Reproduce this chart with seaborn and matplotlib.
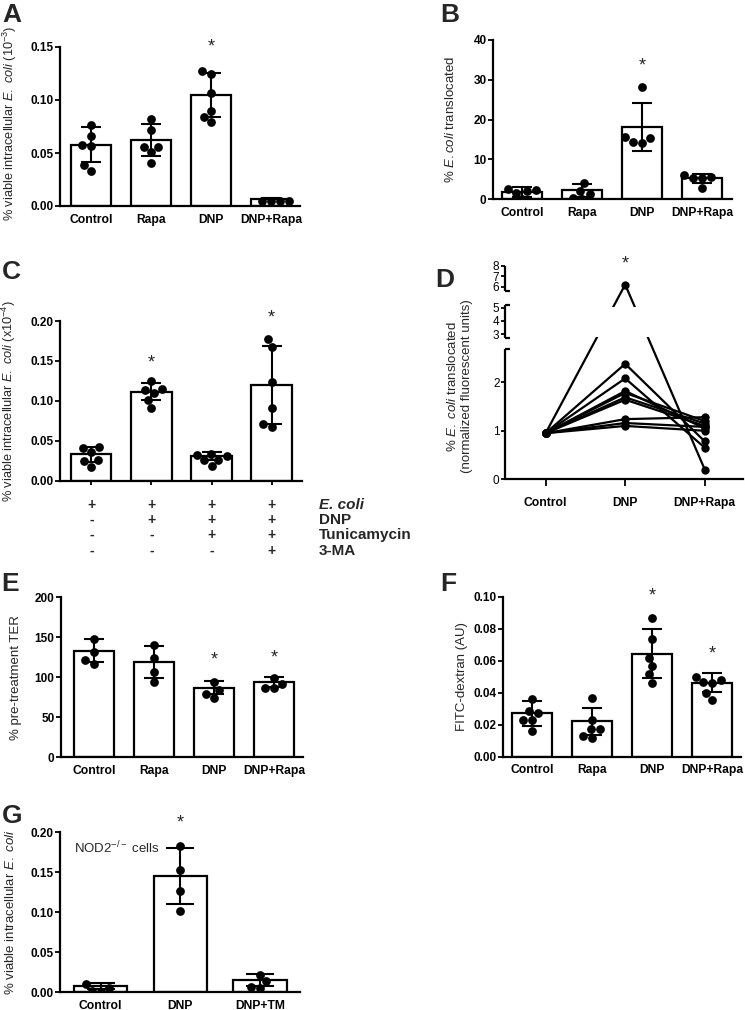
import numpy as np
import pandas as pd
import matplotlib
matplotlib.use("Agg")
import matplotlib.pyplot as plt
import matplotlib.transforms as mtransforms
import seaborn as sns

# ---------------- data ----------------
a_cats = ["Control", "Rapa", "DNP", "DNP+Rapa"]
a_mean = [0.0577, 0.0621, 0.1045, 0.0068]
a_sd = [0.0165, 0.0154, 0.0205, 0.0005]
a_pts = [[0.0763, 0.0662, 0.0574, 0.0570, 0.0389, 0.0333],
         [0.0825, 0.0715, 0.0559, 0.0555, 0.0505, 0.0405],
         [0.1270, 0.1243, 0.1070, 0.0894, 0.0841, 0.0790],
         [0.0045, 0.0044, 0.0043, 0.0045]]

b_cats = ["Control", "Rapa", "DNP", "DNP+Rapa"]
b_mean = [1.9, 2.3, 18.2, 5.3]
b_sd = [1.2, 1.6, 6.0, 1.15]
b_pts = [[2.6, 2.3, 2.0, 1.7, 0.1],
         [4.1, 2.2, 1.3, 0.3, 0.1],
         [28.1, 15.6, 15.4, 14.4, 14.2],
         [6.2, 5.6, 5.4, 5.3, 2.9]]

c_cats = ["g1", "g2", "g3", "g4"]
c_mean = [0.0330, 0.1115, 0.0309, 0.1198]
c_sd = [0.0095, 0.0105, 0.0045, 0.0485]
c_pts = [[0.0418, 0.0405, 0.0355, 0.0255, 0.0246, 0.0175],
         [0.1253, 0.1144, 0.1136, 0.1100, 0.1010, 0.0906],
         [0.0330, 0.0320, 0.0310, 0.0265, 0.0255, 0.0190],
         [0.1770, 0.1670, 0.1230, 0.0906, 0.0706, 0.0668]]
c_rows = ["E. coli", "DNP", "Tunicamycin", "3-MA"]
c_signs = [["+", "+", "+", "+"],
           ["-", "+", "+", "+"],
           ["-", "-", "+", "+"],
           ["-", "-", "-", "+"]]

d_cats = ["Control", "DNP", "DNP+Rapa"]
d_ctrl = [0.95, 0.95, 0.95, 0.95, 0.95, 0.95, 0.95, 0.95, 0.95, 0.95]
d_dnp = [6.20, 2.38, 2.08, 1.82, 1.78, 1.69, 1.64, 1.24, 1.16, 1.10]
d_rapa = [0.20, 0.78, 0.65, 1.05, 1.20, 1.15, 1.10, 1.28, 1.08, 1.00]

e_cats = ["Control", "Rapa", "DNP", "DNP+Rapa"]
e_mean = [133.3, 119.6, 87.1, 93.8]
e_sd = [14.0, 20.0, 8.0, 6.0]
e_pts = [[148.0, 132.0, 121.0, 117.0],
         [140.4, 123.8, 107.0, 94.6],
         [94.6, 84.2, 78.8, 74.6],
         [98.8, 91.2, 86.2, 86.2]]

f_cats = ["Control", "Rapa", "DNP", "DNP+Rapa"]
f_mean = [0.0272, 0.0221, 0.0643, 0.0463]
f_sd = [0.0078, 0.0085, 0.0153, 0.0060]
f_pts = [[0.0362, 0.0285, 0.0272, 0.0230, 0.0230, 0.0160],
         [0.0366, 0.0228, 0.0174, 0.0174, 0.0130, 0.0120],
         [0.0866, 0.0733, 0.0620, 0.0569, 0.0515, 0.0463],
         [0.0500, 0.0480, 0.0465, 0.0458, 0.0396, 0.0354]]

g_cats = ["Control", "DNP", "DNP+TM"]
g_mean = [0.0079, 0.1450, 0.0154]
g_sd = [0.0042, 0.0350, 0.0075]
g_pts = [[0.0105, 0.0050, 0.0020, 0.0005],
         [0.1830, 0.1533, 0.1270, 0.1020],
         [0.0220, 0.0138, 0.0063, 0.0050]]

# ---------------- style ----------------
sns.set_theme(style="ticks")
plt.rcParams["font.family"] = ["Liberation Sans", "DejaVu Sans"]
plt.rcParams["mathtext.fontset"] = "custom"
plt.rcParams["mathtext.rm"] = "Liberation Sans"
plt.rcParams["mathtext.it"] = "Liberation Sans:italic"
plt.rcParams["mathtext.bf"] = "Liberation Sans:bold"
plt.rcParams["axes.linewidth"] = 1.6
plt.rcParams["axes.edgecolor"] = "black"
plt.rcParams["xtick.color"] = "black"
plt.rcParams["ytick.color"] = "black"

W, H = 745, 1010
fig = plt.figure(figsize=(W / 100, H / 100), dpi=100)


def px_axes(left, right, top, bottom):
    return fig.add_axes([left / W, 1 - bottom / H, (right - left) / W, (bottom - top) / H])


def star(ax, x, y):
    ax.annotate("*", xy=(x, y), xytext=(0, -7.5), textcoords="offset points",
                ha="center", va="baseline", fontsize=13, annotation_clip=False,
                zorder=10)


def bar_panel(ax, cats, means, sds, pts, ylim, yticks, fmt, ylabel, xlim,
              label_xy, capsize=7.5, xtick_len=0, show_xlabels=True,
              ylabel_size=9.5):
    sns.barplot(x=cats, y=means, order=cats, color="white", saturation=1,
                edgecolor="black", linewidth=1.6, width=0.67, errorbar=None,
                ax=ax, zorder=1)
    pos = np.arange(len(cats))
    ax.errorbar(pos, means, yerr=sds, fmt="none", ecolor="black",
                elinewidth=1.5, capsize=capsize, capthick=1.5, zorder=2)
    grp = [c for c, p in zip(cats, pts) for _ in p]
    val = [v for p in pts for v in p]
    sns.swarmplot(x=grp, y=val, order=cats, color="black", size=6.3,
                  linewidth=0, ax=ax, zorder=3)
    ax.set_xlim(*xlim)
    ax.set_ylim(*ylim)
    ax.set_yticks(yticks)
    ax.set_yticklabels([fmt.format(t) for t in yticks])
    sns.despine(ax=ax)
    ax.tick_params(axis="y", length=3.6, width=1.3, pad=1, labelsize=8.5)
    ax.tick_params(axis="x", length=xtick_len, width=1.3, pad=5.5, labelsize=8.7)
    if not show_xlabels:
        ax.set_xticklabels([])
    for t in ax.get_xticklabels() + ax.get_yticklabels():
        t.set_fontweight("bold")
    ax.set_xlabel("")
    ax.set_ylabel(ylabel, fontsize=ylabel_size)
    ax.yaxis.set_label_coords(*label_xy)


# ---------------- panel A ----------------
axA = px_axes(60, 300, 47, 206)
bar_panel(axA, a_cats, a_mean, a_sd, a_pts, (0, 0.15), [0, 0.05, 0.10, 0.15],
          "{:.2f}", r"% viable intracellular $\mathit{E.\ coli}$ (10$^{-3}$)",
          (-0.517, 3.483), (-0.172, 0.52), ylabel_size=9.2)
star(axA, 2, 0.1554)

# ---------------- panel B ----------------
axB = px_axes(493, 732, 40, 199.3)
bar_panel(axB, b_cats, b_mean, b_sd, b_pts, (0, 40), [0, 10, 20, 30, 40],
          "{:.0f}", r"% $\mathit{E.coli}$ translocated",
          (-0.49, 3.5), (-0.152, 0.5))
star(axB, 2, 35.0)

# ---------------- panel C ----------------
axC = px_axes(60, 301.7, 321, 480.7)
bar_panel(axC, c_cats, c_mean, c_sd, c_pts, (0, 0.20),
          [0, 0.05, 0.10, 0.15, 0.20], "{:.2f}",
          r"% viable intracellular $\mathit{E.\ coli}$ (x10$^{-4}$)",
          (-0.52, 3.5), (-0.172, 0.5), xtick_len=3, show_xlabels=False,
          ylabel_size=9.2)
star(axC, 1, 0.1553)
star(axC, 3, 0.2116)
row_px = [505, 520, 535, 551]
trans = mtransforms.blended_transform_factory(axC.transData, fig.transFigure)
for r, (name, signs) in enumerate(zip(c_rows, c_signs)):
    yf = 1 - row_px[r] / H
    for i, s in enumerate(signs):
        axC.text(i, yf, s, transform=trans, ha="center", va="center",
                 fontsize=10, fontweight="bold", clip_on=False)
    fig.text(319 / W, yf, name, ha="left", va="center", fontsize=11,
             fontweight="bold", fontstyle="italic" if r == 0 else "normal")

# ---------------- panel D ----------------
axD = px_axes(505, 743, 265.7, 479.3)
knots_v = [-1, 0, 2.7, 3, 5.2, 5.6, 8, 10]
knots_p = [-48.5, 0, 131, 145, 174.3, 188.4, 213.6, 234.6]
axD.set_yscale("function",
               functions=(lambda v: np.interp(v, knots_v, knots_p),
                          lambda p: np.interp(p, knots_p, knots_v)))
rows = []
for s in range(len(d_dnp)):
    rows.append((s, d_cats[0], d_ctrl[s]))
    rows.append((s, d_cats[1], d_dnp[s]))
    rows.append((s, d_cats[2], d_rapa[s]))
dfD = pd.DataFrame(rows, columns=["subject", "group", "value"])
sns.lineplot(data=dfD, x="group", y="value", units="subject", estimator=None,
             color="black", marker="o", markersize=6, markeredgewidth=0,
             linewidth=1.6, sort=False, legend=False, ax=axD, zorder=2)
xl = -0.51
axD.set_xlim(xl, 2.48)
axD.set_ylim(0, 8)
axD.set_yticks([0, 1, 2, 3, 4, 5, 6, 7, 8])
axD.set_yticklabels(["0", "1", "2", "3", "4", "5", "6", "7", "8"])
sns.despine(ax=axD)
axD.spines["left"].set_visible(False)
for lo, hi in [(0, 2.68), (2.93, 5.2), (5.6, 8)]:
    axD.plot([xl, xl], [lo, hi], color="black", lw=1.6, clip_on=False,
             solid_capstyle="butt", zorder=6)
for yb in [2.68, 2.93, 5.2, 5.6]:
    axD.plot([xl, xl + 0.06], [yb, yb], color="black", lw=1.6,
             clip_on=False, solid_capstyle="butt", zorder=6)
axD.axhspan(2.95, 5.08, xmin=0.1, xmax=0.95, facecolor="white",
            edgecolor="none", zorder=5)
axD.tick_params(axis="y", length=3, width=1.3, pad=1, labelsize=8.5)
axD.tick_params(axis="x", length=5, width=1.3, pad=8, labelsize=8.7)
for t in axD.get_xticklabels():
    t.set_fontweight("bold")
axD.set_xlabel("")
axD.set_ylabel("% $\\mathit{E.\\ coli}$ translocated\n(normalized fluorescent units)",
               fontsize=9.5, linespacing=1.25)
axD.yaxis.set_label_coords(-0.134, 0.434)
star(axD, 1, 8.73)

# ---------------- panel E ----------------
axE = px_axes(61, 303, 597.3, 757.3)
bar_panel(axE, e_cats, e_mean, e_sd, e_pts, (0, 200), [0, 50, 100, 150, 200],
          "{:.0f}", "% pre-treatment TER", (-0.55, 3.48), (-0.161, 0.5))
star(axE, 2, 128.75)
star(axE, 3, 131.25)

# ---------------- panel F ----------------
axF = px_axes(502.7, 741, 596.7, 756.7)
bar_panel(axF, f_cats, f_mean, f_sd, f_pts, (0, 0.10),
          [0, 0.02, 0.04, 0.06, 0.08, 0.10], "{:.2f}", "FITC-dextran (AU)",
          (-0.49, 3.48), (-0.146, 0.5))
star(axF, 2, 0.1042)
star(axF, 3, 0.0677)

# ---------------- panel G ----------------
axG = px_axes(60, 300, 832.3, 992.3)
bar_panel(axG, g_cats, g_mean, g_sd, g_pts, (0, 0.20),
          [0, 0.05, 0.10, 0.15, 0.20], "{:.2f}",
          r"% viable intracellular $\mathit{E.\ coli}$",
          (-0.51, 2.5), (-0.18, 0.5), capsize=10)
star(axG, 1, 0.2195)
axG.text(-0.335, 0.174, "NOD2$^{-/-}$ cells", fontsize=9.5, ha="left",
         va="baseline")

# ---------------- panel letters ----------------
for letter, x, yb in [("A", 2, 21.7), ("B", 440, 21.7), ("C", 2, 279),
                      ("D", 435, 286.7), ("E", 1, 591), ("F", 440, 591),
                      ("G", 2, 823)]:
    fig.text(x / W, 1 - yb / H, letter, fontsize=19, fontweight="bold",
             ha="left", va="baseline")

fig.savefig("out.png", dpi=100, facecolor="white")
